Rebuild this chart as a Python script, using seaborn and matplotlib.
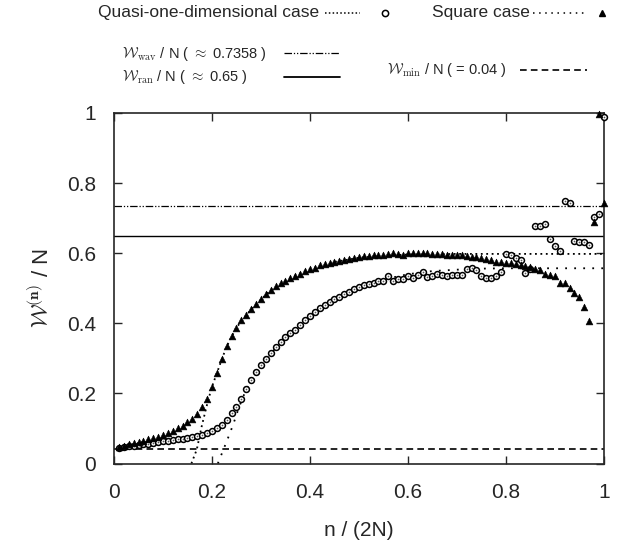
import matplotlib
matplotlib.use("Agg")
import matplotlib.pyplot as plt
import seaborn as sns
import pandas as pd
from matplotlib.lines import Line2D

# n / (2N) positions of the data points
n_ratio = [k / 100 for k in range(1, 101)]

square_vals = [
    0.048, 0.051, 0.055, 0.058, 0.062, 0.065, 0.069, 0.073, 0.077, 0.082,
    0.087, 0.093, 0.100, 0.108, 0.117, 0.128, 0.142, 0.160, 0.185, 0.218,
    0.258, 0.297, 0.334, 0.364, 0.388, 0.408, 0.424, 0.440, 0.456, 0.470,
    0.483, 0.495, 0.505, 0.514, 0.522, 0.529, 0.535, 0.541, 0.548, 0.554,
    0.559, 0.565, 0.568, 0.572, 0.575, 0.578, 0.581, 0.584, 0.586, 0.589,
    0.591, 0.593, 0.594, 0.595, 0.596, 0.599, 0.600, 0.598, 0.596, 0.600,
    0.601, 0.600, 0.600, 0.600, 0.599, 0.598, 0.598, 0.596, 0.595, 0.596,
    0.594, 0.592, 0.590, 0.590, 0.586, 0.583, 0.581, 0.576, 0.575, 0.573,
    0.572, 0.570, 0.566, 0.563, 0.560, 0.556, 0.552, 0.540, 0.537, 0.536,
    0.515, 0.514, 0.500, 0.486, 0.475, 0.446, 0.407, 0.690, 0.997, 0.744,
]

quasi_vals = [
    0.045, 0.047, 0.049, 0.051, 0.053, 0.055, 0.057, 0.059, 0.061, 0.063,
    0.065, 0.067, 0.069, 0.071, 0.073, 0.075, 0.078, 0.081, 0.086, 0.092,
    0.100, 0.110, 0.124, 0.143, 0.162, 0.185, 0.212, 0.238, 0.262, 0.280,
    0.298, 0.315, 0.332, 0.348, 0.362, 0.372, 0.382, 0.396, 0.408, 0.422,
    0.432, 0.443, 0.452, 0.461, 0.468, 0.476, 0.483, 0.490, 0.497, 0.503,
    0.508, 0.512, 0.516, 0.520, 0.522, 0.534, 0.520, 0.525, 0.527, 0.536,
    0.528, 0.538, 0.545, 0.533, 0.536, 0.540, 0.538, 0.536, 0.537, 0.537,
    0.538, 0.556, 0.557, 0.552, 0.535, 0.528, 0.530, 0.536, 0.545, 0.598,
    0.596, 0.586, 0.580, 0.543, 0.555, 0.679, 0.679, 0.682, 0.640, 0.621,
    0.605, 0.750, 0.742, 0.635, 0.632, 0.632, 0.624, 0.703, 0.712, 0.990,
]

# dotted fit curves
square_fit_x = [0.158, 0.169, 0.179, 0.189, 0.199, 0.21, 0.22, 0.23, 0.25, 0.28,
                0.32, 0.36, 0.40, 0.45, 0.50, 0.55, 0.60, 0.70, 0.80, 1.0]
square_fit_y = [0.0, 0.04, 0.106, 0.163, 0.215, 0.258, 0.297, 0.334, 0.388, 0.44,
                0.495, 0.53, 0.555, 0.575, 0.587, 0.593, 0.596, 0.598, 0.598, 0.598]
quasi_fit_x = [0.212, 0.222, 0.232, 0.243, 0.255, 0.27, 0.29, 0.31, 0.35, 0.40,
               0.45, 0.50, 0.55, 0.60, 0.65, 0.70, 0.75, 0.80, 1.0]
quasi_fit_y = [0.0, 0.035, 0.07, 0.11, 0.16, 0.212, 0.262, 0.298, 0.36, 0.42,
               0.466, 0.50, 0.525, 0.54, 0.549, 0.553, 0.556, 0.557, 0.557]

w_wav = 0.7358
w_ran = 0.65
w_min = 0.04

sns.set_style("ticks")
plt.rcParams['font.family'] = ['Liberation Sans', 'DejaVu Sans']
plt.rcParams['mathtext.fontset'] = 'cm'

df_sq = pd.DataFrame({'x': n_ratio, 'y': square_vals})
df_qu = pd.DataFrame({'x': n_ratio, 'y': quasi_vals})
df_sqfit = pd.DataFrame({'x': square_fit_x, 'y': square_fit_y})
df_qufit = pd.DataFrame({'x': quasi_fit_x, 'y': quasi_fit_y})

fig = plt.figure(figsize=(6.18, 5.43), dpi=100)
ax = fig.add_axes([0.1845, 0.1464, 0.7925, 0.6455])

# reference levels
ax.axhline(w_wav, color='black', lw=0.9, ls=(0, (6, 1.5, 1, 1.5, 1, 1.5)))
ax.axhline(w_ran, color='black', lw=1.0)
ax.axhline(w_min, color='black', lw=1.2, ls=(0, (4, 2.5)))

# fit curves
sns.lineplot(data=df_sqfit, x='x', y='y', ax=ax, color='black', lw=1.3,
             estimator=None, sort=False, linestyle=(0, (1, 2)))
sns.lineplot(data=df_qufit, x='x', y='y', ax=ax, color='black', lw=1.3,
             estimator=None, sort=False, linestyle=(0, (1, 4)))

# data points
sns.scatterplot(data=df_qu, x='x', y='y', ax=ax, marker='o', s=18,
                facecolor='white', edgecolor='black', linewidth=1.1,
                clip_on=False, zorder=4)
sns.scatterplot(data=df_qu, x='x', y='y', ax=ax, marker='o', s=1.5,
                color='#555555', linewidth=0, clip_on=False, zorder=5)
sns.scatterplot(data=df_sq, x='x', y='y', ax=ax, marker='^', s=24,
                color='black', edgecolor='black', linewidth=0.4,
                clip_on=False, zorder=6)

ax.set_xlim(0, 1)
ax.set_ylim(0, 1)
ax.set_xticks([0, 0.2, 0.4, 0.6, 0.8, 1])
ax.set_xticklabels(['0', '0.2', '0.4', '0.6', '0.8', '1'])
ax.set_yticks([0, 0.2, 0.4, 0.6, 0.8, 1])
ax.set_yticklabels(['0', '0.2', '0.4', '0.6', '0.8', '1'])
ax.tick_params(direction='in', length=6, width=1, labelsize=15,
               top=True, right=True)
ax.tick_params(axis='x', pad=14)
ax.tick_params(axis='y', pad=13)
for sp in ax.spines.values():
    sp.set_linewidth(1.2)
ax.set_xlabel('n / (2N)', fontsize=15, labelpad=14)
ax.set_ylabel(r'$\mathcal{W}^{(\mathbf{n})}$ / N', fontsize=16, labelpad=10)

# legend area drawn in pixel coordinates
lg = fig.add_axes([0, 0, 1, 1], facecolor='none')
lg.set_xlim(0, 618)
lg.set_ylim(543, 0)
lg.axis('off')

lg.text(319, 13, 'Quasi-one-dimensional case', fontsize=12.5, ha='right', va='center')
lg.add_line(Line2D([325, 360], [13, 13], color='black', lw=1.1, ls=(0, (1, 1.5))))
lg.plot([385], [13], marker='o', ms=4.5, mfc='white', mec='black', mew=1.1)
lg.text(432, 13, 'Square case', fontsize=12.5, ha='left', va='center')
lg.add_line(Line2D([533, 585], [13, 13], color='black', lw=1.1, ls=(0, (1, 3))))
lg.plot([602], [13], marker='^', ms=5, color='black')

lg.text(122, 54, r'$\mathcal{W}_{\rm wav}$ / N ( $\approx$ 0.7358 )', fontsize=10.5,
        ha='left', va='center')
lg.add_line(Line2D([284, 340], [53, 53], color='black', lw=0.9,
                   ls=(0, (6, 1.5, 1, 1.5, 1, 1.5))))
lg.text(122, 77, r'$\mathcal{W}_{\rm ran}$ / N ( $\approx$ 0.65 )', fontsize=10.5,
        ha='left', va='center')
lg.add_line(Line2D([284, 340], [77, 77], color='black', lw=1.3))
lg.text(387, 70, r'$\mathcal{W}_{\rm min}$ / N ( = 0.04 )', fontsize=10.5,
        ha='left', va='center')
lg.add_line(Line2D([520, 587], [70, 70], color='black', lw=1.2, ls=(0, (4, 2.5))))

fig.savefig('out.png', dpi=100)
